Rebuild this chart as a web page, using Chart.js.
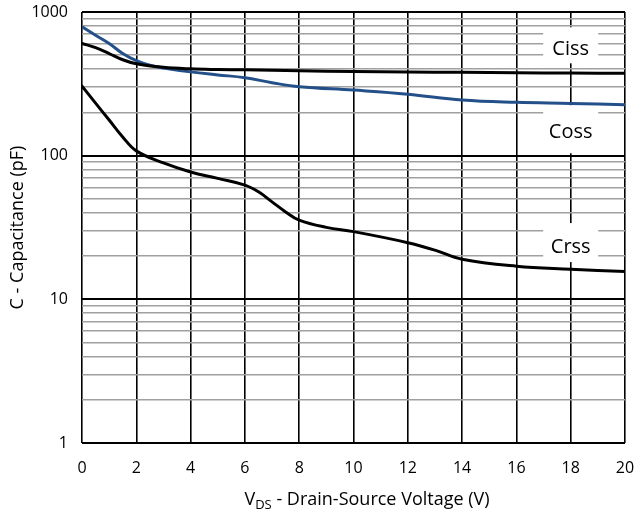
<!DOCTYPE html>
<html>
<head>
<meta charset="utf-8">
<script src="https://cdn.jsdelivr.net/npm/chart.js@4/dist/chart.umd.min.js"></script>
<style>
  html, body { margin: 0; padding: 0; background: #fff; }
  canvas { display: block; }
</style>
</head>
<body>
<canvas id="c" width="636" height="515"></canvas>
<script>
// Drain-source voltage samples (V) and capacitances (pF)
const ciss_vds = [0, 0.5, 1, 1.5, 2, 3, 4, 5, 6, 8, 10, 12, 14, 16, 18, 20];
const ciss_pf  = [605, 565, 514, 465, 436, 412, 402, 398, 396, 390, 385, 382, 380, 378, 376, 375];

const coss_vds = [0, 0.5, 1, 1.5, 2, 2.5, 3, 4, 5, 6, 7, 8, 10, 12, 14, 16, 18, 20];
const coss_pf  = [789, 689, 604, 514, 458, 426, 408, 383, 365, 349, 322, 302, 286, 268, 244, 235, 231, 226];

const crss_vds = [0, 0.5, 1, 1.5, 2, 3, 4, 5, 6, 6.5, 7, 7.5, 8, 9, 10, 12, 13, 14, 16, 18, 20];
const crss_pf  = [305, 232, 177, 135, 108, 89, 77, 69.5, 62.4, 56, 47.7, 40.6, 35.6, 31.7, 29.6, 24.8, 22, 19, 17, 16.2, 15.6];

// Axis ticks
const xTicks = [0, 2, 4, 6, 8, 10, 12, 14, 16, 18, 20];
const yDecades = [1, 10, 100, 1000];

// Curve name tags, anchored at VDS = 18 V
const tagNames  = ['Ciss', 'Coss', 'Crss'];
const tagVds    = [18, 18, 18];
const tagPf     = [550, 145.6, 23.1];

const FONT = '"Open Sans", "Liberation Sans", sans-serif';

function pts(xs, ys) { return xs.map((x, i) => ({ x: x, y: ys[i] })); }

// every 1..9 x decade gridline on the log axis
function logGridValues() {
  const out = [];
  for (let d = 0; d < yDecades.length - 1; d++) {
    for (let m = 1; m <= 9; m++) out.push(m * yDecades[d]);
  }
  out.push(yDecades[yDecades.length - 1]);
  return out;
}
const isDecade = v => yDecades.some(d => Math.abs(d - v) < 1e-9);

// keep the plot area fixed: no extra room reserved for edge labels
function noEdgePadding(s) {
  s.paddingTop = 0; s.paddingBottom = 0; s.paddingLeft = 0; s.paddingRight = 0;
}

// white boxes with the curve names, drawn over the grid but under the curves
const tagPlugin = {
  id: 'curveTags',
  beforeDatasetsDraw(chart) {
    const ctx = chart.ctx;
    const xs = chart.scales.x, ys = chart.scales.y;
    const boxes = [[-22, 14], [-27, 21], [-24, 15]];
    ctx.save();
    tagNames.forEach((name, i) => {
      const cx = xs.getPixelForValue(tagVds[i]);
      const cy = ys.getPixelForValue(tagPf[i]);
      ctx.fillStyle = '#ffffff';
      ctx.fillRect(cx - 27.5, cy + boxes[i][0], 55, boxes[i][1] - boxes[i][0]);
      ctx.fillStyle = '#000000';
      ctx.font = '20px ' + FONT;
      ctx.textAlign = 'center';
      ctx.textBaseline = 'middle';
      ctx.fillText(name, cx, cy);
    });
    ctx.restore();
  }
};

// axis titles (x title carries a subscript)
const titlePlugin = {
  id: 'axisTitles',
  afterDraw(chart) {
    const ctx = chart.ctx;
    const area = chart.chartArea;
    ctx.save();
    ctx.fillStyle = '#000';
    ctx.textBaseline = 'alphabetic';

    const big = '18px ' + FONT, small = '13px ' + FONT;
    const p1 = 'V', p2 = 'DS', p3 = ' - Drain-Source Voltage (V)';
    ctx.font = big;  const w1 = ctx.measureText(p1).width, w3 = ctx.measureText(p3).width;
    ctx.font = small; const w2 = ctx.measureText(p2).width;
    const total = w1 + w2 + w3;
    let x = 367 - total / 2;
    const base = 505;
    ctx.textAlign = 'left';
    ctx.font = big;   ctx.fillText(p1, x, base); x += w1;
    ctx.font = small; ctx.fillText(p2, x, base + 4); x += w2;
    ctx.font = big;   ctx.fillText(p3, x, base);

    ctx.translate(23, (area.top + area.bottom) / 2);
    ctx.rotate(-Math.PI / 2);
    ctx.textAlign = 'center';
    ctx.font = big;
    ctx.fillText('C - Capacitance (pF)', 0, 0);
    ctx.restore();
  }
};

const lineStyle = {
  borderWidth: 3,
  pointRadius: 0,
  tension: 0.4,
  borderCapStyle: 'round',
  borderJoinStyle: 'round',
  fill: false
};

new Chart(document.getElementById('c'), {
  type: 'line',
  data: {
    datasets: [
      Object.assign({ label: 'Ciss', data: pts(ciss_vds, ciss_pf), borderColor: '#000000' }, lineStyle),
      Object.assign({ label: 'Coss', data: pts(coss_vds, coss_pf), borderColor: '#24508a' }, lineStyle),
      Object.assign({ label: 'Crss', data: pts(crss_vds, crss_pf), borderColor: '#000000' }, lineStyle)
    ]
  },
  options: {
    responsive: false,
    animation: false,
    layout: { padding: { left: 0, right: 11, top: 12, bottom: 0 } },
    plugins: { legend: { display: false }, tooltip: { enabled: false } },
    scales: {
      x: {
        type: 'linear',
        min: 0, max: 20,
        afterBuildTicks: s => { s.ticks = xTicks.map(v => ({ value: v })); },
        afterFit: s => { s.height = 72; noEdgePadding(s); },
        border: { display: false },
        grid: { color: '#000', lineWidth: 1.6, drawTicks: false },
        ticks: {
          autoSkip: false, maxRotation: 0, padding: 16, color: '#000',
          font: { family: FONT, size: 16 }
        }
      },
      y: {
        type: 'logarithmic',
        min: 1, max: 1000,
        afterBuildTicks: s => { s.ticks = logGridValues().map(v => ({ value: v })); },
        afterFit: s => { s.width = 82; noEdgePadding(s); },
        border: { display: false },
        grid: {
          drawTicks: false,
          color: c => isDecade(c.tick.value) ? '#000' : '#a0a0a0',
          lineWidth: c => isDecade(c.tick.value) ? 2 : 1.6
        },
        ticks: {
          autoSkip: false, padding: 14, color: '#000',
          font: { family: FONT, size: 16 },
          callback: v => isDecade(v) ? String(v) : ''
        }
      }
    }
  },
  plugins: [tagPlugin, titlePlugin]
});
</script>
</body>
</html>
